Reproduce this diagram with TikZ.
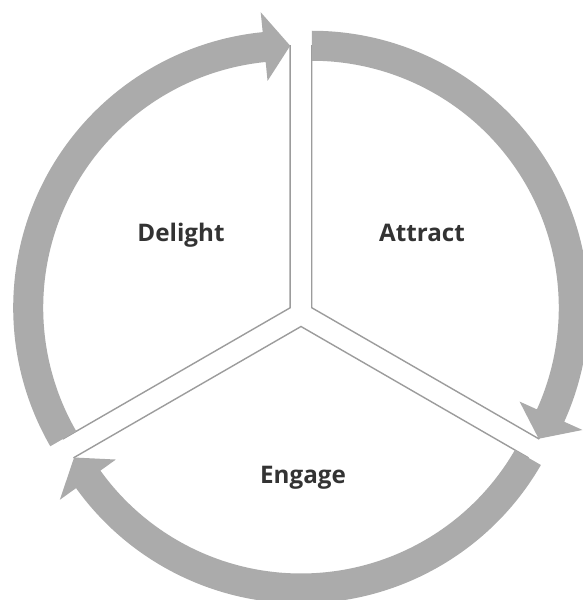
\documentclass[tikz,border=0pt]{standalone}
\usepackage{fontspec}
\setmainfont{Open Sans}
\usetikzlibrary{calc}
\definecolor{ringgray}{HTML}{ABABAB}
\definecolor{edgegray}{HTML}{9C9C9C}
\definecolor{labeltext}{HTML}{333333}

\tikzset{
  sector edge/.style={draw=edgegray, line width=0.7pt, fill=white},
  ring arrow/.style={fill=ringgray},
  phase label/.style={anchor=base, text=labeltext, font=\bfseries\fontsize{12.1}{15}\selectfont}
}

% #1 centre, #2 start angle, #3 tip angle, #4 head back angle
\newcommand{\ringarrow}[4]{%
  \fill[ring arrow] ($(#1)+(#2:277)$) arc[start angle=#2, end angle=#4, radius=277]
    -- ($(#1)+(#4:297)$) -- ($(#1)+(#3:262)$) -- ($(#1)+(#4:228)$)
    -- ($(#1)+(#4:247)$) arc[start angle=#4, end angle=#2, radius=247] -- cycle;}

\begin{document}
\begin{tikzpicture}[x=0.5pt, y=0.5pt]
\useasboundingbox (-301,-286) rectangle (282,314);

\coordinate (delight_c) at (-10.8, 6.25);
\coordinate (attract_c) at ( 10.8, 6.25);
\coordinate (engage_c) at (0, -12.5);

\draw[sector edge] (delight_c) -- ++(90:262) arc[start angle=90, end angle=210, radius=262] -- cycle;
\draw[sector edge] (attract_c) -- ++(-30:262) arc[start angle=-30, end angle=90, radius=262] -- cycle;
\draw[sector edge] (engage_c) -- ++(210:262) arc[start angle=210, end angle=330, radius=262] -- cycle;

\ringarrow{delight_c}{210}{90}{95.7}
\ringarrow{attract_c}{90}{-30}{-24.3}
\ringarrow{engage_c}{-30}{-150}{-144.3}

\node[phase label] (delight) at (-120, 72) {Delight};
\node[phase label] (attract) at (121, 72) {Attract};
\node[phase label] (engage) at (2, -169) {Engage};
\end{tikzpicture}
\end{document}
